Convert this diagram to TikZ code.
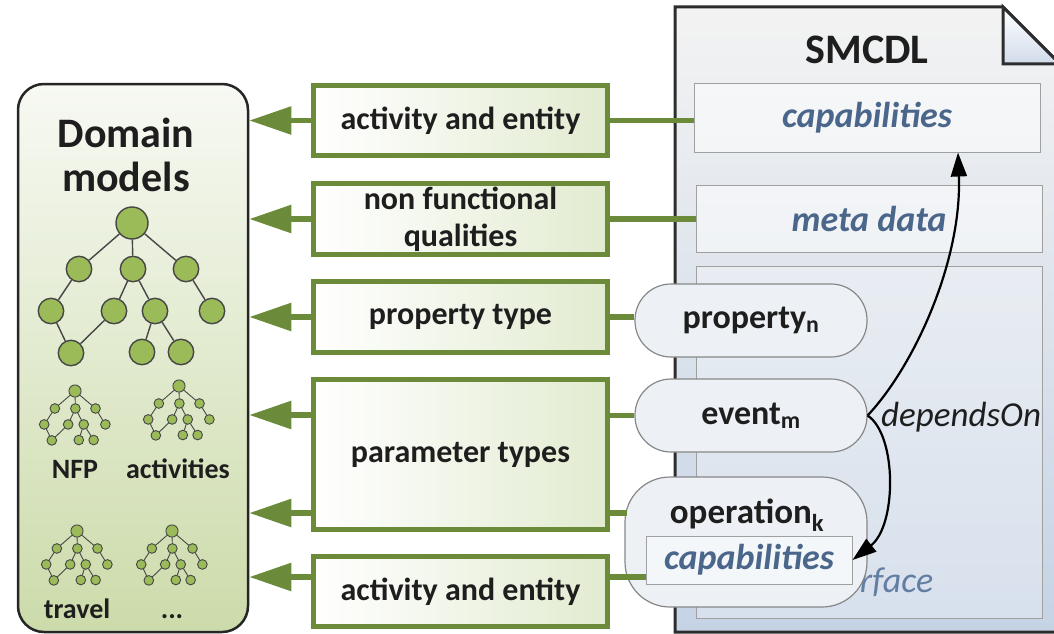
\documentclass[tikz,border=0pt]{standalone}
\usepackage{fontspec}
\setmainfont{Carlito}
\usetikzlibrary{arrows.meta,calc}
\definecolor{olive}{RGB}{107,139,58}
\definecolor{boxgreen}{RGB}{226,235,208}
\definecolor{dmTop}{RGB}{247,249,243}
\definecolor{dmBot}{RGB}{204,219,170}
\definecolor{docTop}{RGB}{243,243,243}
\definecolor{docBot}{RGB}{197,211,229}
\definecolor{docline}{RGB}{45,45,45}
\definecolor{capblue}{RGB}{74,102,138}
\definecolor{ifblue}{RGB}{98,126,162}
\definecolor{pillfill}{RGB}{237,241,246}
\definecolor{pillline}{RGB}{135,135,135}
\definecolor{iline}{RGB}{160,160,160}
\definecolor{treefill}{RGB}{155,187,89}
\definecolor{treeline}{RGB}{70,70,70}
\definecolor{txt}{RGB}{30,30,30}
\tikzset{
  tn/.style={circle, draw=treeline, fill=treefill, inner sep=0pt},
  te/.style={draw=treeline},
  tree/.pic={
    \node[tn, minimum size=32pt] (-r) at (0,0) {};
    \node[tn, minimum size=25.4pt] (-a) at (-53,46) {};
    \node[tn, minimum size=25.4pt] (-b) at (1,46) {};
    \node[tn, minimum size=25.4pt] (-c) at (54,46) {};
    \node[tn, minimum size=25.4pt] (-d) at (-81,88) {};
    \node[tn, minimum size=25.4pt] (-e) at (-18,88) {};
    \node[tn, minimum size=25.4pt] (-f) at (23,88) {};
    \node[tn, minimum size=25.4pt] (-g) at (80,88) {};
    \node[tn, minimum size=25.4pt] (-h) at (-61,130) {};
    \node[tn, minimum size=25.4pt] (-i) at (10,129) {};
    \node[tn, minimum size=25.4pt] (-j) at (49,129) {};
    \draw[te] (-r) -- (-a);
    \draw[te] (-r) -- (-b);
    \draw[te] (-r) -- (-c);
    \draw[te] (-a) -- (-d);
    \draw[te] (-d) -- (-h);
    \draw[te] (-e) -- (-h);
    \draw[te] (-b) -- (-e);
    \draw[te] (-b) -- (-f);
    \draw[te] (-f) -- (-i);
    \draw[te] (-f) -- (-j);
    \draw[te] (-c) -- (-g);
  }
}
\begin{document}
\begin{tikzpicture}[x=1pt,y=-1pt,
  gbox/.style={draw=olive, line width=5pt, left color=white, right color=boxgreen,
    inner sep=0pt, align=center, text=txt, minimum width=294pt,
    font=\bfseries\fontsize{32}{37}\selectfont},
  arr/.style={draw=olive, line width=5.5pt, -{Triangle[length=42pt,width=27pt]}},
  conn/.style={draw=olive, line width=5.5pt},
  ibox/.style={draw=iline, line width=1pt, fill=white, fill opacity=0.5, text opacity=1,
    text=capblue, font=\bfseries\itshape\fontsize{36}{40}\selectfont, minimum width=346pt},
  pill/.style={draw=pillline, line width=1.2pt, fill=pillfill, text=txt,
    font=\bfseries\fontsize{34}{38}\selectfont},
  lab/.style={text=txt, font=\bfseries\fontsize{35}{38}\selectfont, inner sep=0pt},
  tl/.style={text=txt, font=\bfseries\fontsize{28}{32}\selectfont, inner sep=0pt, anchor=base},
  dep/.style={draw=black, line width=2.2pt, -{Triangle[length=24pt,width=16pt]}}
]
\useasboundingbox (0,0) rectangle (1054,634);
\clip (0,0) rectangle (1054,634);

% SMCDL document
\path[draw=docline, line width=3pt, top color=docTop, bottom color=docBot, line join=miter]
  (675,7) -- (1003,7) -- (1080,84) -- (1080,632) -- (675,632) -- cycle;
\path[draw=docline, line width=3pt, top color=white, bottom color=docBot!80]
  (1003,7) -- (1003,64) -- (1060,64) -- cycle;
\node[text=txt, font=\bfseries\fontsize{42}{44}\selectfont] (sm) at (867,50) {SMCDL};

\node[ibox, minimum height=69pt] (cap) at (867,117.5) {capabilities};
\node[ibox, minimum height=67pt] (meta) at (869,218.5) {meta data};
\node[ibox, minimum height=352pt, fill opacity=0.3] (intf) at (869,442) {};
\node[text=ifblue, font=\itshape\fontsize{36}{40}\selectfont] (intft) at (869,582) {interface};

% Domain models
\node[draw=black!85, line width=2.5pt, rounded corners=26pt, top color=dmTop, bottom color=dmBot,
  minimum width=230pt, minimum height=548pt] (dm) at (133,358) {};
\node[text=txt, font=\bfseries\fontsize{42}{44}\selectfont, align=center] (dmt) at (126,155) {Domain\\models};

\pic[line width=1.4pt] (big) at (132,223) {tree};
\pic[scale=0.38, transform shape, line width=0.9pt] (t1) at (75,391) {tree};
\pic[scale=0.38, transform shape, line width=0.9pt] (t2) at (179,386) {tree};
\pic[scale=0.38, transform shape, line width=0.9pt] (t3) at (77,531) {tree};
\pic[scale=0.38, transform shape, line width=0.9pt] (t4) at (172,531) {tree};

\node[tl] (l1) at (75,478) {NFP};
\node[tl] (l2) at (178,478) {activities};
\node[tl] (l3) at (77,618) {travel};
\node[tl] (l4) at (172,618) {...};

% green boxes
\node[gbox, minimum height=70pt] (b1) at (460.5,120.5) {activity and entity};
\node[gbox, minimum height=71pt] (b2) at (460.5,219) {non functional\\qualities};
\node[gbox, minimum height=71pt] (b3) at (460.5,317) {property type};
\node[gbox, minimum height=150pt] (b4) at (460.5,454.5) {parameter types};
\node[gbox, minimum height=70pt] (b5) at (460.5,591.5) {activity and entity};

% pills
\node[pill, minimum width=232pt, minimum height=73pt, rounded corners=36pt] (prop) at (751,320.5) {property\textsubscript{n}};
\node[pill, minimum width=232pt, minimum height=73pt, rounded corners=36pt] (ev) at (751,415.5) {event\textsubscript{m}};
\node[pill, minimum width=242pt, minimum height=130pt, rounded corners=45pt] (op) at (746,542) {};
\node[lab] (opt) at (747,515) {operation\textsubscript{k}};
\node[draw=iline, line width=1pt, fill=pillfill!60!white, text=capblue,
  font=\bfseries\itshape\fontsize{36}{40}\selectfont, minimum width=206pt, minimum height=48pt, inner sep=0pt]
  (icap) at (749,560) {capabilities};

% arrows to domain models
\draw[arr] (b1.west) -- (b1.west -| dm.east);
\draw[arr] (b2.west) -- (b2.west -| dm.east);
\draw[arr] (b3.west) -- (b3.west -| dm.east);
\coordinate (b4u) at ($(b4.west)+(0,-39.5)$);
\coordinate (b4d) at ($(b4.west)+(0,58.5)$);
\draw[arr] (b4u) -- (b4u -| dm.east);
\draw[arr] (b4d) -- (b4d -| dm.east);
\coordinate (b5l) at ($(b5.west)+(0,-14.5)$);
\draw[arr] (b5l) -- (b5l -| dm.east);

% connections to the right
\draw[conn] (b1.east) -- (b1.east -| cap.west);
\draw[conn] (b2.east) -- (b2.east -| meta.west);
\draw[conn] (b3.east) -- (b3.east -| prop.west);
\draw[conn] (b4.east |- ev.west) -- (ev.west);
\coordinate (opl) at (627,513);
\draw[conn] (b4.east |- opl) -- (opl);
\coordinate (b5r) at ($(b5.east)+(0,-14.5)$);
\draw[conn] (b5r) -- (b5r -| icap.west);

% dependsOn
\coordinate (captip) at ($(cap.south)+(91,0)$);
\draw[dep] (ev.east) .. controls (915,365) and (962,260) .. (captip);
\draw[dep] (ev.east) .. controls (897,435) and (897,525) .. (icap.east);
\node[text=txt, font=\itshape\fontsize{35}{38}\selectfont, anchor=west, inner sep=0pt] (dlab) at (881,417) {dependsOn};
\end{tikzpicture}
\end{document}
